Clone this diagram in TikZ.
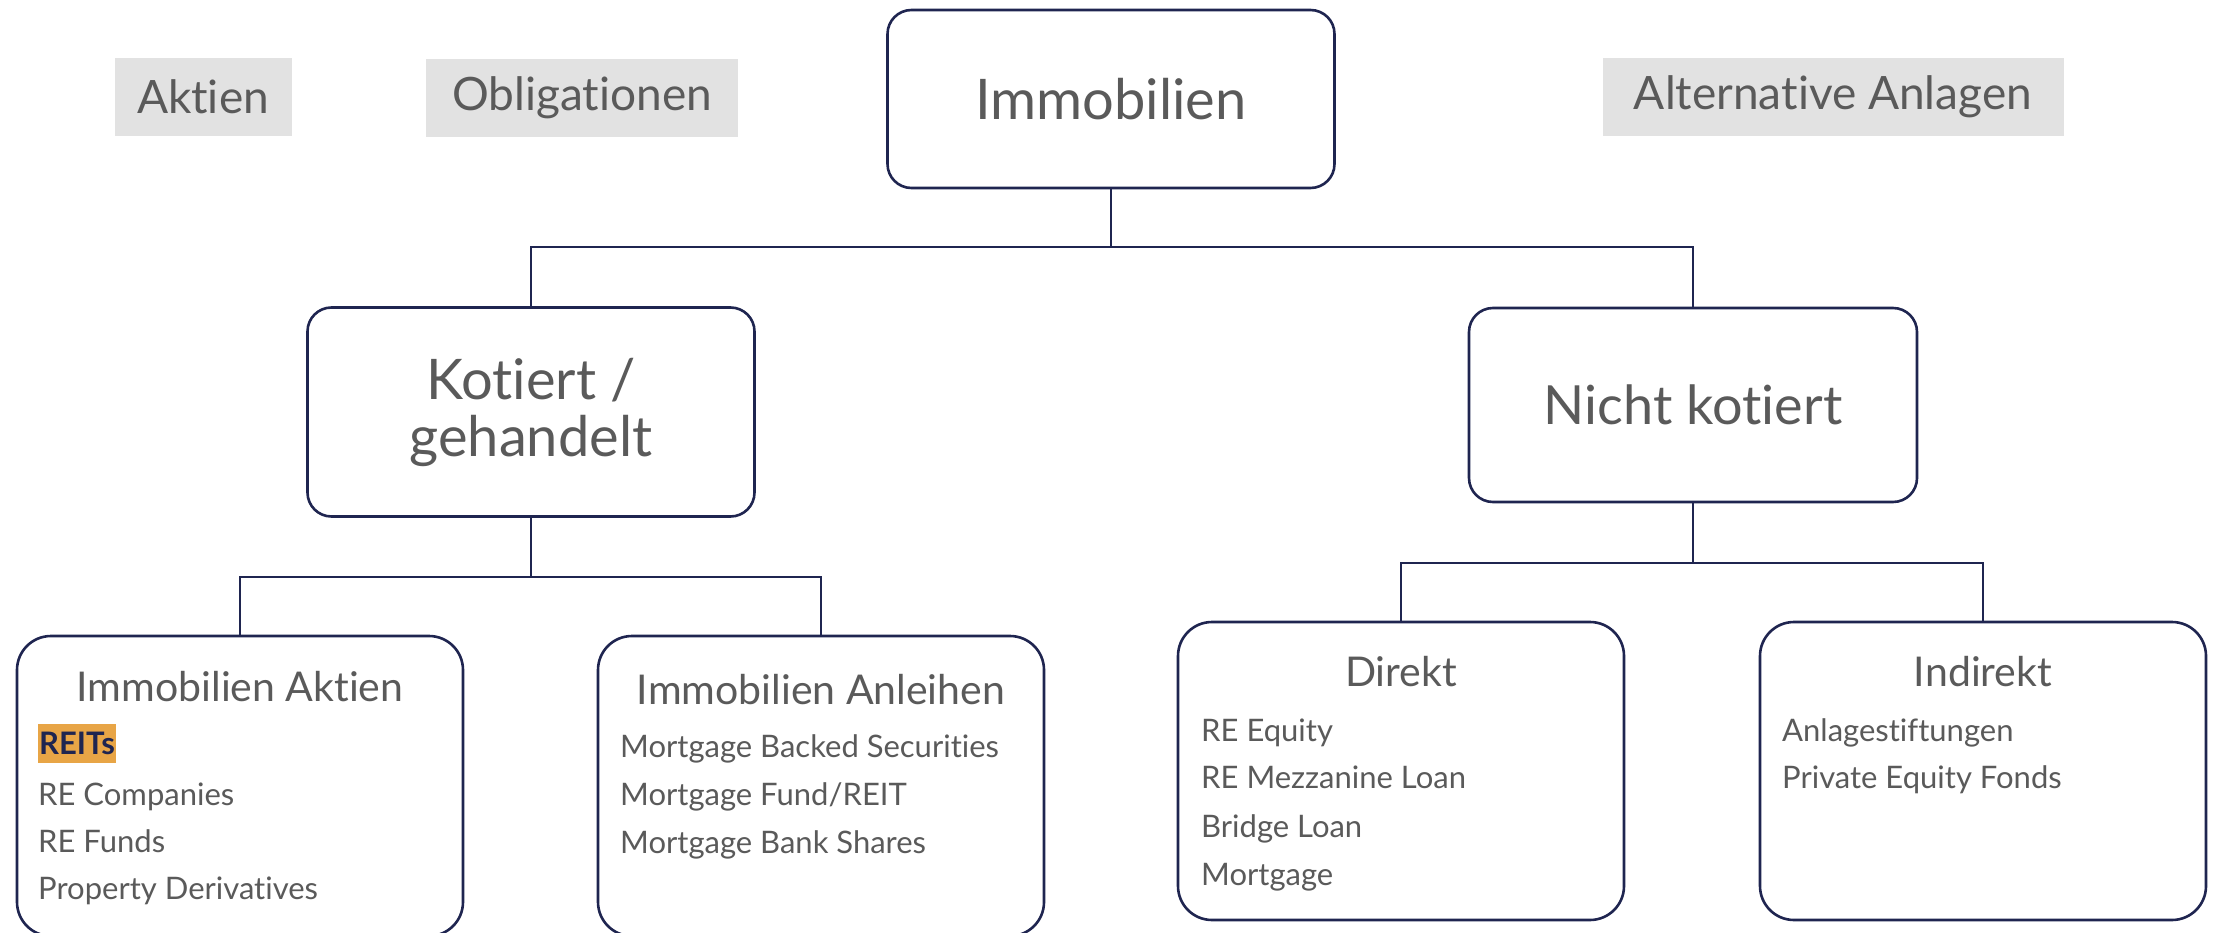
\documentclass[tikz,border=0pt]{standalone}
\usepackage{fontspec}
\setmainfont{Lato}[Ligatures={NoCommon}]
\definecolor{txtgray}{HTML}{5A5A5A}
\definecolor{navy}{HTML}{1F2550}
\definecolor{lightgray}{HTML}{E2E2E2}
\definecolor{hlorange}{HTML}{E8A546}
\tikzset{
  mainbox/.style={draw=navy, line width=2.6pt, rounded corners=24pt, fill=white, inner sep=0pt},
  leafbox/.style={draw=navy, line width=2.6pt, rounded corners=34pt, fill=white, inner sep=0pt, minimum width=446pt},
  tag/.style={fill=lightgray, inner sep=0pt, text=txtgray, font=\fontsize{46}{52}\selectfont},
  bigtxt/.style={text=txtgray, font=\fontsize{56}{57}\selectfont, align=center},
  headtxt/.style={text=txtgray, font=\fontsize{41}{46}\selectfont},
  itemtxt/.style={text=txtgray, font=\fontsize{31}{36}\selectfont, anchor=mid west, inner sep=0pt},
  conn/.style={draw=navy, line width=2.6pt}
}
\begin{document}
\begin{tikzpicture}[x=1pt,y=-1pt]
\useasboundingbox (0,0) rectangle (2213,933);
\clip (0,0) rectangle (2213,933);
\fill[white] (0,0) rectangle (2213,933);

% top tags
\node[tag, minimum width=177pt, minimum height=78pt] (aktien) at (203,97) {Aktien};
\node[tag, minimum width=312pt, minimum height=78pt] (oblig) at (582,98) {Obligationen};
\node[tag, minimum width=461pt, minimum height=78pt] (alt) at (1833,97) {Alternative Anlagen};

% main boxes
\node[mainbox, minimum width=447pt, minimum height=178pt] (imm) at (1111,99) {};
\node[bigtxt] (immt) at (imm.center) {Immobilien};
\node[mainbox, minimum width=447pt, minimum height=209pt] (kot) at (531,412) {};
\node[bigtxt] (kott) at (kot.center) {Kotiert /\\gehandelt};
\node[mainbox, minimum width=448pt, minimum height=194pt] (nk) at (1693,405) {};
\node[bigtxt, font=\fontsize{54}{57}\selectfont] (nkt) at (nk.center) {Nicht kotiert};

% leaf boxes
\node[leafbox, minimum height=300pt] (ia) at (240,786) {};
\node[leafbox, minimum height=300pt] (ian) at (821,786) {};
\node[leafbox, minimum height=298pt] (dir) at (1401,771) {};
\node[leafbox, minimum height=298pt] (ind) at (1983,771) {};

% connectors
\coordinate (j1) at (1111,247);
\coordinate (j2) at (531,577);
\coordinate (j3) at (1693,563);
\draw[conn] (imm.south) -- (j1) -| (kot.north);
\draw[conn] (j1) -| (nk.north);
\draw[conn] (kot.south) -- (j2) -| (ia.north);
\draw[conn] (j2) -| (ian.north);
\draw[conn] (nk.south) -- (j3) -| (dir.north);
\draw[conn] (j3) -| (ind.north);

% leaf texts: Immobilien Aktien
\node[headtxt] (iah) at (240,687) {Immobilien Aktien};
\node[itemtxt, fill=hlorange, text=navy, font=\fontsize{31}{36}\selectfont\bfseries, minimum height=39pt, inner xsep=1pt] (ia1) at (38,752) {REITs};
\node[itemtxt] (ia2) at (38,803) {RE Companies};
\node[itemtxt] (ia3) at (38,850) {RE Funds};
\node[itemtxt] (ia4) at (38,897) {Property Derivatives};

% Immobilien Anleihen
\node[headtxt] (ianh) at (821,690) {Immobilien Anleihen};
\node[itemtxt] (ian1) at (620,755) {Mortgage Backed Securities};
\node[itemtxt] (ian2) at (620,803) {Mortgage Fund/REIT};
\node[itemtxt] (ian3) at (620,851) {Mortgage Bank Shares};

% Direkt
\node[headtxt] (dirh) at (1401,672) {Direkt};
\node[itemtxt] (dir1) at (1201,739) {RE Equity};
\node[itemtxt] (dir2) at (1201,786) {RE Mezzanine Loan};
\node[itemtxt] (dir3) at (1201,835) {Bridge Loan};
\node[itemtxt] (dir4) at (1201,883) {Mortgage};

% Indirekt
\node[headtxt] (indh) at (1983,672) {Indirekt};
\node[itemtxt] (ind1) at (1782,739) {Anlagestiftungen};
\node[itemtxt] (ind2) at (1782,786) {Private Equity Fonds};
\end{tikzpicture}
\end{document}
